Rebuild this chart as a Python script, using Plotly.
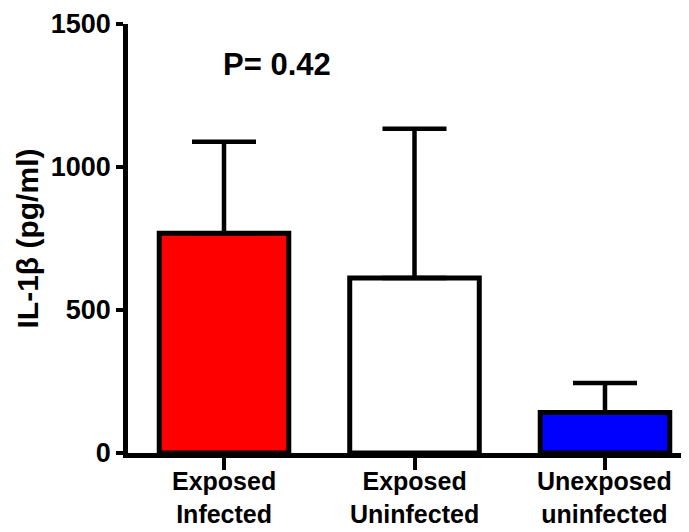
import plotly.graph_objects as go

categories = ["Exposed<br>Infected", "Exposed<br>Uninfected", "Unexposed<br>uninfected"]
means = [768, 612, 142]
sem_upper = [320, 522, 103]
fill_colors = ["#FF0000", "#FFFFFF", "#0000FF"]
y_ticks = [0, 500, 1000, 1500]
p_text = "P= 0.42"
y_title = "IL-1β (pg/ml)"

FONT = "Liberation Sans, Arial, sans-serif"

fig = go.Figure()
fig.add_trace(go.Bar(
    x=categories,
    y=means,
    width=0.68,
    marker=dict(color=fill_colors, line=dict(color="black", width=5)),
    error_y=dict(type="data", symmetric=False, array=sem_upper,
                 arrayminus=[0, 0, 0], color="black", thickness=4.5, width=32),
    showlegend=False,
))

fig.add_annotation(
    x=0.28, y=1357, xref="x", yref="y", text=p_text, showarrow=False,
    font=dict(family=FONT, size=31, color="black", weight="bold"),
    xanchor="center", yanchor="middle",
)

for c in categories:
    fig.add_annotation(
        x=c, y=0, xref="x", yref="y", text=c, showarrow=False,
        font=dict(family=FONT, size=25, color="black", weight="bold"),
        xanchor="center", yanchor="top", yshift=-12, align="center",
    )

fig.add_annotation(
    x=0, y=0.5, xref="paper", yref="paper", text=y_title, showarrow=False,
    textangle=-90, xanchor="center", yanchor="middle", xshift=-101,
    font=dict(family=FONT, size=30, color="black", weight="bold"),
)

fig.update_layout(
    width=681, height=524,
    margin=dict(l=120, r=0, t=16, b=79, pad=0),
    paper_bgcolor="white", plot_bgcolor="white",
)
fig.update_xaxes(
    type="category", range=[-0.504, 2.441], automargin=False,
    showline=True, linecolor="black", linewidth=4.5,
    ticks="outside", ticklen=12, tickwidth=3.5, tickcolor="black",
    showgrid=False, zeroline=False, showticklabels=False,
)
fig.update_yaxes(
    range=[0, 1500], tickvals=y_ticks, automargin=False,
    showline=True, linecolor="black", linewidth=4.5,
    ticks="outside", ticklen=7, tickwidth=3.5, tickcolor="black",
    showgrid=False, zeroline=False,
    tickfont=dict(family=FONT, size=27, color="black", weight="bold"),
)

fig.write_html("out.html")
